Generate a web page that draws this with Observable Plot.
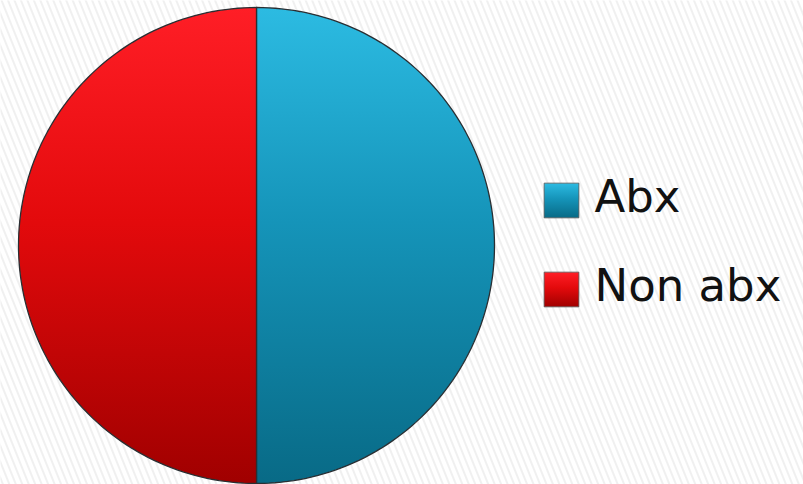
<!DOCTYPE html>
<html>
<head>
<meta charset="utf-8">
<script src="https://cdn.jsdelivr.net/npm/d3@7"></script>
<script src="https://cdn.jsdelivr.net/npm/@observablehq/plot@0.6"></script>
<style>
  html, body { margin: 0; padding: 0; background: #fff; }
  #chart svg { display: block; }
</style>
</head>
<body>
<div id="chart"></div>
<script>
// ---- data ----
const categories = ["Abx", "Non abx"];
const values = [50, 50];
const gradientIds = ["gradAbx", "gradNon"];

// ---- layout ----
const W = 803, H = 484;
const cx = 256, cy = 245, R = 238;
const legendX = 561, legendTextX = 594, legendY0 = 200, legendStep = 89;

// sector outlines built from d3.pie angles
const arcs = d3.pie().sort(null)(values);
const sectors = arcs.map((a, i) => {
  const pts = [{x: cx, y: cy}];
  const n = 120;
  for (let k = 0; k <= n; k++) {
    const t = a.startAngle + (a.endAngle - a.startAngle) * k / n;
    pts.push({x: cx + R * Math.sin(t), y: cy - R * Math.cos(t)});
  }
  pts.push({x: cx, y: cy});
  return pts;
});

const legend = categories.map((c, i) => ({cat: c, i, x: legendX, tx: legendTextX, y: legendY0 + i * legendStep}));

function defs() {
  const g = d3.create("svg:g");
  const d = g.append("defs");
  const p = d.append("pattern").attr("id", "stripes").attr("patternUnits", "userSpaceOnUse")
    .attr("width", 6).attr("height", 6).attr("patternTransform", "rotate(-22)");
  p.append("rect").attr("width", 6).attr("height", 6).attr("fill", "#ffffff");
  p.append("line").attr("x1", 1).attr("y1", 0).attr("x2", 1).attr("y2", 6)
    .attr("stroke", "#ececec").attr("stroke-width", 1.5);
  const stops = {
    gradAbx: [["0%", "#2cbbe2"], ["45%", "#1594b9"], ["100%", "#086a86"]],
    gradNon: [["0%", "#ff1e26"], ["45%", "#e30a0c"], ["100%", "#a00000"]]
  };
  for (const id of gradientIds) {
    const lg = d.append("linearGradient").attr("id", id)
      .attr("x1", 0).attr("y1", 0).attr("x2", 0).attr("y2", 1);
    for (const [o, c] of stops[id]) lg.append("stop").attr("offset", o).attr("stop-color", c);
  }
  return g.node();
}

const marks = [
  defs,
  Plot.frame({fill: "url(#stripes)", stroke: null}),
  ...sectors.map((pts, i) => Plot.line(pts, {
    x: "x", y: "y", fill: `url(#${gradientIds[i]})`, stroke: "#2a2f33", strokeWidth: 1.3, strokeLinejoin: "round"
  })),
  ...legend.map(d => Plot.dot([d], {
    x: "x", y: "y", symbol: "square", r: 19.6, fill: `url(#${gradientIds[d.i]})`, stroke: "#555", strokeWidth: 0.8
  })),
  Plot.text(legend, {
    x: "tx", y: "y", text: "cat", textAnchor: "start", fontSize: 45, dy: -3,
    fontFamily: "DejaVu Sans", fill: "#111"
  })
];

const chart = Plot.plot({
  width: W, height: H,
  margin: 0,
  x: {type: "linear", domain: [0, W], range: [0, W], axis: null},
  y: {type: "linear", domain: [0, H], range: [0, H], axis: null},
  style: {background: "#fff"},
  marks
});
document.getElementById("chart").appendChild(chart);
</script>
</body>
</html>
